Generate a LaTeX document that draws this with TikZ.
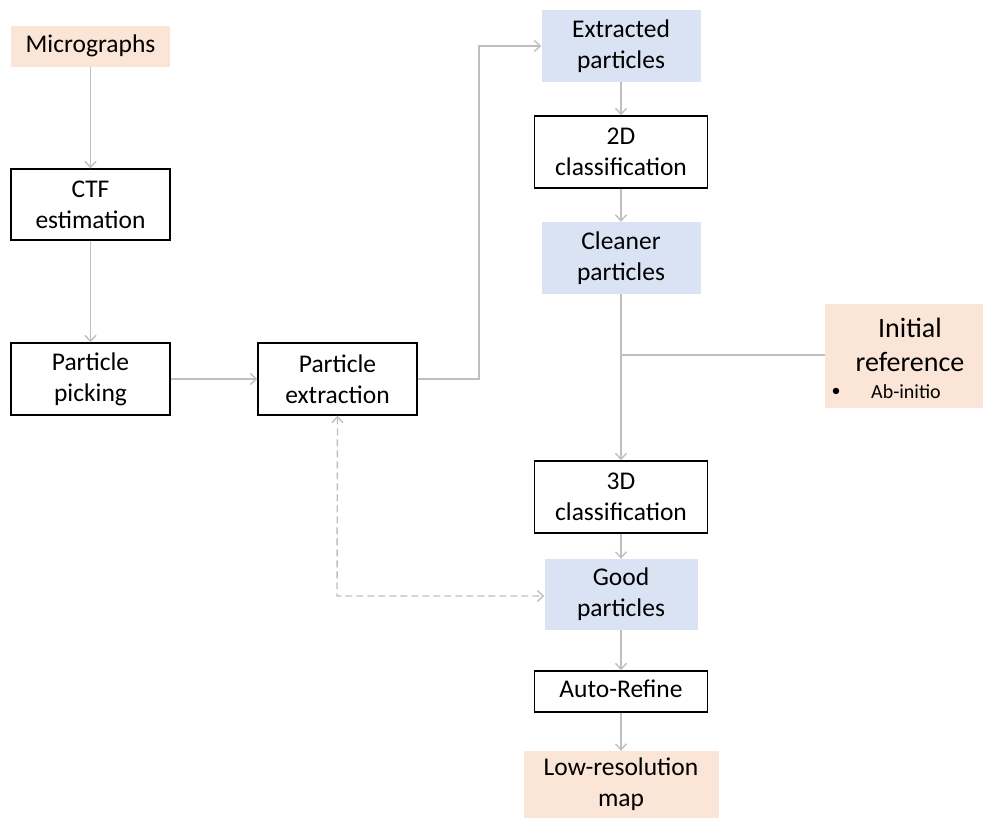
\documentclass[tikz,border=0pt]{standalone}
\usepackage{fontspec}
\setmainfont{Carlito}
\usetikzlibrary{arrows.meta}
\definecolor{peach}{HTML}{FBE5D6}
\definecolor{lblue}{HTML}{DAE3F3}
\definecolor{conn}{HTML}{BFBFBF}
\begin{document}
\begin{tikzpicture}[x=1pt,y=-1pt,
  base/.style={rectangle, inner sep=0pt, align=center, font=\fontsize{25.5}{31}\selectfont},
  outbox/.style={base, draw=black, line width=1.4pt},
  peachbox/.style={base, fill=peach},
  bluebox/.style={base, fill=lblue},
  conline/.style={draw=conn, line width=1.4pt},
  arr/.style={conline, -{Straight Barb[length=6pt,width=11pt,line width=1.4pt]}},
  darr/.style={conline, dash pattern=on 7pt off 4pt, {Straight Barb[length=6pt,width=11pt,line width=1.4pt]}-{Straight Barb[length=6pt,width=11pt,line width=1.4pt]}}
]
\useasboundingbox (0,0) rectangle (983,818);
\node[peachbox, minimum width=159pt, minimum height=41pt] (micro) at (90.5,46.5) {\strut Micrographs};
\node[outbox, minimum width=159pt, minimum height=71pt] (ctf) at (90.5,204.5) {CTF\\estimation};
\node[outbox, minimum width=159pt, minimum height=72pt] (pick) at (90.5,379) {Particle\\picking};
\node[outbox, minimum width=159pt, minimum height=72pt] (pext) at (337.5,379) {Particle\\extraction};
\node[bluebox, minimum width=159pt, minimum height=72pt] (extr) at (621,46) {Extracted\\particles};
\node[outbox, minimum width=173pt, minimum height=72pt] (c2d) at (621,152) {2D\\classification};
\node[bluebox, minimum width=159pt, minimum height=72pt] (clean) at (621,258) {Cleaner\\particles};
\node[peachbox, minimum width=158pt, minimum height=104pt] (initref) at (904,356) {};
\node[base, font=\fontsize{28}{34}\selectfont] at (910,345) {Initial\\reference};
\node[base, font=\fontsize{18}{20}\selectfont] at (836,392) {•};
\node[base, font=\fontsize{20}{22}\selectfont] at (906,392) {Ab-initio};
\node[outbox, minimum width=173pt, minimum height=72pt] (c3d) at (621,497) {3D\\classification};
\node[bluebox, minimum width=153pt, minimum height=71pt] (good) at (621,594.5) {Good\\particles};
\node[outbox, minimum width=173pt, minimum height=41pt] (auto) at (621,691.5) {\strut Auto-Refine};
\node[peachbox, minimum width=195pt, minimum height=67pt] (low) at (621,784.5) {Low-resolution\\map};

\coordinate (j1) at (479,379);
\coordinate (j2) at (479,46);
\coordinate (jr) at (621,355);
\coordinate (dc) at (337,596);

\draw[arr] (micro) -- (ctf);
\draw[arr] (ctf) -- (pick);
\draw[arr] (pick) -- (pext);
\draw[arr] (pext.east) -- (j1) -- (j2) -- (extr.west);
\draw[arr] (extr) -- (c2d);
\draw[arr] (c2d) -- (clean);
\draw[arr] (clean) -- (c3d);
\draw[conline] (initref.west |- jr) -- (jr);
\draw[arr] (c3d) -- (good);
\draw[darr] (pext.south) -- (dc) -- (good.west |- dc);
\draw[arr] (good) -- (auto);
\draw[arr] (auto) -- (low);
\end{tikzpicture}
\end{document}
